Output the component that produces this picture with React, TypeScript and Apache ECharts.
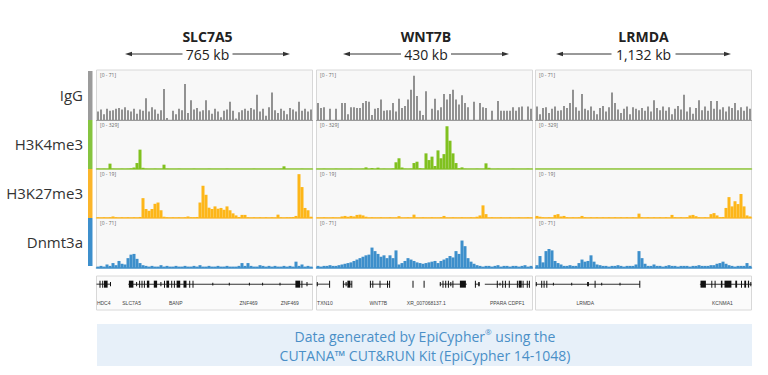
import React, { useEffect, useRef } from "react";
import * as echarts from "echarts";

// ---------- labels ----------
const loci = ["SLC7A5", "WNT7B", "LRMDA"];
const spans = ["765 kb", "430 kb", "1,132 kb"];
const tracks = ["IgG", "H3K4me3", "H3K27me3", "Dnmt3a"];
const trackMax = [71, 329, 19, 71];
const rangeLabels = ["[0 - 71]", "[0 - 329]", "[0 - 19]", "[0 - 71]"];

// ---------- signal (72 bins per locus) ----------
const iggSLC7A5 = [
  12, 15, 8, 16, 13, 14, 16, 17, 15, 18, 14, 12, 16, 9, 15, 13,
  31, 12, 18, 15, 9, 14, 44, 3, 0, 13, 8, 16, 14, 51, 10, 28,
  15, 17, 12, 14, 28, 14, 9, 16, 12, 4, 13, 15, 26, 13, 2, 11,
  14, 16, 13, 17, 15, 36, 12, 16, 6, 18, 39, 14, 10, 16, 13, 8,
  17, 15, 12, 26, 13, 16, 12, 15,
];
const iggWNT7B = [
  24, 17, 18, 0, 16, 0, 16, 0, 24, 24, 8, 18, 18, 17, 17, 24,
  27, 26, 7, 16, 17, 29, 13, 14, 14, 24, 12, 30, 17, 20, 29, 43,
  63, 34, 13, 7, 41, 0, 16, 30, 14, 18, 37, 29, 37, 43, 29, 22,
  35, 24, 18, 0, 26, 0, 24, 18, 17, 0, 13, 0, 27, 13, 13, 13,
  13, 18, 13, 18, 19, 0, 19, 16,
];
const iggLRMDA = [
  19, 8, 17, 18, 10, 16, 19, 13, 14, 20, 17, 24, 43, 18, 13, 37,
  16, 14, 19, 13, 8, 17, 20, 12, 18, 39, 24, 15, 10, 16, 19, 8,
  18, 16, 14, 17, 13, 19, 12, 28, 17, 14, 19, 13, 18, 8, 16, 20,
  15, 36, 12, 18, 9, 17, 28, 14, 19, 13, 27, 16, 27, 15, 18, 12,
  19, 17, 24, 14, 18, 13, 19, 16,
];
const k4SLC7A5 = [
  2, 1, 2, 1, 36, 2, 1, 1, 2, 1, 2, 4, 10, 40, 130, 8,
  2, 1, 1, 2, 1, 1, 29, 2, 1, 1, 1, 2, 1, 1, 1, 1,
  2, 1, 1, 1, 1, 2, 1, 1, 1, 1, 1, 2, 1, 1, 1, 1,
  1, 1, 1, 1, 2, 1, 1, 1, 1, 1, 1, 1, 1, 2, 18, 1,
  1, 1, 1, 1, 2, 1, 1, 1,
];
const k4WNT7B = [
  1, 1, 2, 1, 1, 1, 2, 1, 1, 1, 1, 2, 1, 1, 1, 2,
  11, 1, 6, 1, 9, 1, 2, 1, 1, 3, 45, 72, 10, 2, 1, 2,
  40, 49, 5, 2, 105, 60, 83, 20, 125, 72, 100, 287, 190, 105, 40, 5,
  11, 2, 1, 1, 1, 2, 1, 1, 38, 8, 1, 1, 2, 1, 1, 1,
  1, 2, 1, 1, 1, 1, 2, 1,
];
const k4LRMDA = [
  1, 1, 1, 1, 1, 1, 1, 1, 1, 1, 1, 1, 1, 1, 1, 1,
  1, 1, 1, 1, 1, 1, 1, 1, 1, 1, 1, 1, 1, 1, 1, 1,
  1, 1, 1, 1, 1, 1, 1, 1, 1, 1, 1, 1, 1, 1, 1, 1,
  1, 1, 1, 1, 1, 1, 1, 1, 1, 1, 1, 1, 1, 1, 1, 1,
  1, 1, 1, 1, 1, 1, 1, 1,
];
const k27SLC7A5 = [
  0.3, 0.2, 0.3, 0.2, 0.3, 0.6, 0.3, 0.2, 0.3, 0.2, 0.3, 0.2, 0.3, 0.2, 0.4, 7.7,
  3.5, 2.8, 3.5, 5.5, 6, 3, 0.5, 0.3, 0.2, 0.3, 0.2, 0.3, 0.2, 0.3, 0.6, 0.3,
  0.3, 0.4, 6, 12.5, 9, 4, 3.5, 4.5, 3.6, 3.9, 3.2, 4.5, 3, 1.8, 1, 0.4,
  1.2, 1.2, 0.3, 0.2, 0.3, 0.2, 0.3, 0.2, 0.3, 0.2, 0.3, 0.2, 1.3, 0.3, 0.2, 0.3,
  0.3, 0.4, 0.8, 17, 12, 3.9, 3, 0.5,
];
const k27WNT7B = [
  0.2, 0.2, 0.3, 0.2, 0.2, 0.3, 0.2, 0.2, 0.6, 0.8, 0.5, 0.8, 0.6, 1.2, 1.3, 1.0,
  0.5, 0.2, 0.3, 0.2, 0.2, 0.3, 0.2, 0.2, 0.3, 0.2, 0.2, 0.7, 0.2, 0.2, 0.3, 0.2,
  1.3, 0.2, 0.2, 0.3, 0.2, 0.2, 0.3, 0.2, 0.2, 0.3, 0.8, 0.2, 0.2, 0.3, 0.2, 0.2,
  0.3, 0.2, 0.2, 0.3, 0.2, 0.5, 1.0, 4.9, 1.5, 0.2, 0.3, 0.2, 0.2, 0.3, 0.2, 0.2,
  0.3, 0.2, 0.2, 0.3, 0.2, 0.2, 0.3, 0.2,
];
const k27LRMDA = [
  0.8, 0.5, 0.3, 0.2, 0.3, 0.2, 1.2, 1.5, 0.6, 0.8, 0.3, 0.2, 0.3, 0.2, 0.3, 0.8,
  0.3, 0.2, 0.3, 0.2, 0.3, 0.2, 0.3, 0.2, 0.3, 0.2, 0.3, 0.2, 0.3, 0.2, 0.3, 0.2,
  0.3, 0.2, 1.7, 0.3, 0.2, 0.3, 0.2, 0.3, 0.2, 0.3, 0.2, 0.3, 0.2, 1.2, 0.3, 0.2,
  0.3, 0.2, 0.3, 1.0, 1.2, 0.7, 0.3, 0.2, 0.3, 0.2, 1.5, 1.9, 1.0, 0.3, 0.4, 3.9,
  8.1, 4.5, 6.5, 5.4, 9.3, 4.5, 1.0, 0.6,
];
const dnSLC7A5 = [
  2, 3, 2, 5, 3, 7, 4, 10, 6, 5, 14, 19, 20, 13, 7, 4,
  3, 2, 3, 2, 2, 4, 2, 3, 2, 2, 3, 2, 2, 3, 2, 2,
  3, 2, 4, 2, 2, 3, 2, 2, 3, 2, 2, 3, 2, 2, 2, 3,
  7, 3, 7, 3, 2, 2, 4, 3, 2, 3, 2, 3, 2, 2, 3, 2,
  3, 2, 9, 3, 5, 2, 3, 2,
];
const dnWNT7B = [
  3, 2, 3, 3, 4, 3, 3, 4, 5, 6, 7, 8, 10, 12, 14, 16,
  18, 19, 29, 24, 20, 16, 18, 14, 18, 14, 25, 5, 7, 10, 14, 12,
  10, 8, 7, 6, 7, 8, 9, 10, 7, 10, 12, 14, 17, 15, 24, 20,
  39, 31, 14, 9, 6, 4, 3, 2, 3, 3, 2, 3, 4, 2, 3, 3,
  2, 3, 3, 2, 3, 4, 2, 3,
];
const dnLRMDA = [
  4, 17, 8, 24, 27, 25, 10, 7, 5, 3, 3, 4, 3, 3, 7, 12,
  9, 10, 18, 9, 5, 4, 3, 3, 2, 3, 3, 4, 3, 2, 3, 3,
  3, 5, 24, 14, 6, 3, 3, 5, 3, 3, 2, 3, 4, 3, 3, 2,
  3, 3, 3, 2, 3, 3, 4, 3, 3, 3, 4, 4, 6, 7, 9, 6,
  4, 3, 2, 3, 3, 3, 7, 3,
];

// ---------- gene annotation (bin units, 0-72) ----------
const geneLinesSLC7A5 = [[0, 4.8], [10.6, 72]];
const exonsSLC7A5 = [
  [1.0, 1.3, 1], [1.9, 2.2, 1], [2.5, 3.7, 1], [4.5, 4.8, 0.6],
  [10.8, 12.3, 1], [13.2, 13.4, 0.6], [14.2, 14.5, 1], [15.0, 15.3, 1], [15.8, 16.1, 1],
  [16.8, 17.6, 1], [19.1, 20.2, 1], [21.3, 21.6, 0.6], [22.5, 22.8, 1], [23.3, 24.2, 1],
  [24.9, 25.2, 1], [25.8, 26.1, 1], [26.7, 27.9, 1], [29.0, 30.0, 1], [30.9, 31.2, 1],
  [32.0, 32.3, 1], [38.6, 38.9, 0.4], [44.1, 44.4, 0.4], [50.8, 51.1, 0.4], [55.2, 55.5, 0.4],
  [61.0, 61.3, 0.4], [66.3, 67.9, 1], [68.3, 68.6, 1], [70.0, 70.3, 0.6],
];
const geneLabelsSLC7A5: [number, string][] = [
  [2.4, "HDC4"], [11.7, "SLC7A5"], [26.4, "BANP"], [50.7, "ZNF469"], [64.4, "ZNF469"],
];
const geneLinesWNT7B = [[0.1, 4.4], [8.8, 11.8], [17.8, 24.4], [41.1, 50.1], [52.8, 54.4], [56.1, 71.1]];
const exonsWNT7B = [
  [0.1, 0.4, 0.6], [4.2, 4.5, 1], [8.8, 9.1, 1], [9.7, 10.0, 0.6], [10.3, 11.3, 1], [11.6, 11.9, 1],
  [17.8, 18.1, 1], [18.6, 18.9, 1], [21.0, 21.3, 1], [23.5, 23.8, 1], [24.2, 24.5, 1],
  [32.0, 32.3, 1], [35.7, 36.0, 1], [41.1, 41.4, 0.6], [42.0, 42.3, 1], [42.9, 43.2, 1],
  [43.8, 44.1, 1], [44.6, 44.9, 0.6], [45.3, 45.6, 1], [47.8, 49.8, 1], [52.8, 53.1, 1],
  [53.9, 54.4, 0.6], [60.1, 60.4, 1], [61.0, 61.3, 0.4], [61.9, 62.2, 1], [62.8, 63.1, 1],
  [64.1, 64.4, 1], [66.8, 67.1, 1], [67.4, 68.4, 1], [68.7, 69.0, 1], [70.1, 70.4, 1], [70.8, 71.1, 1],
];
const geneLabelsWNT7B: [number, string][] = [
  [2.8, "TXN10"], [20.6, "WNT7B"], [36.6, "XR_007068137.1"], [60.6, "PPARA"], [66.6, "CDPF1"],
];
const geneLinesLRMDA = [[0.1, 34.8], [54.8, 72]];
const exonsLRMDA = [
  [0.1, 0.4, 0.6], [1.9, 2.2, 1], [2.7, 3.0, 1], [3.6, 3.9, 1], [5.8, 6.1, 0.4], [11.9, 12.2, 0.4],
  [17.2, 17.8, 0.6], [19.7, 20.0, 1], [21.9, 22.2, 0.4], [28.0, 28.3, 0.4], [34.6, 34.9, 1],
  [55.0, 56.8, 1], [58.6, 58.9, 1], [59.7, 60.0, 1], [61.8, 62.3, 1], [63.0, 65.3, 1],
  [66.6, 67.2, 1], [68.5, 68.8, 1], [69.6, 70.2, 1], [70.8, 71.2, 1], [71.6, 71.9, 0.6],
];
const geneLabelsLRMDA: [number, string][] = [[16.6, "LRMDA"], [62.3, "KCNMA1"]];

const footerLine1 = "Data generated by EpiCypher";
const footerLine1b = " using the";
const footerLine2 = "CUTANA™ CUT&RUN Kit (EpiCypher 14-1048)";

// ---------- layout / style ----------
const FONT = "'Open Sans', sans-serif";
const SMALL_FONT = "'Liberation Sans', Arial, sans-serif";
const colLeft = [96.5, 316.5, 535.5];
const colW = 216;
const rowTop = [70, 120, 169, 218];
const rowH = [50, 49, 49, 50];
const labelY = [95, 144, 193, 242];
const barColors = ["#8a8a8a", "#80c11f", "#fdb619", "#3d8fcb"];
const sideColors = ["#9b9b9b", "#86c440", "#fbb52b", "#3d8fcc"];
const baseColors = ["#9a9a9a", "#96cc45", "#fcc250", "#4a96ce"];
const arrowL = [125, 343, 556];
const arrowR = [290, 509, 731];
const gapHalf = [25, 25, 32];

const trackData = [
  [iggSLC7A5, iggWNT7B, iggLRMDA],
  [k4SLC7A5, k4WNT7B, k4LRMDA],
  [k27SLC7A5, k27WNT7B, k27LRMDA],
  [dnSLC7A5, dnWNT7B, dnLRMDA],
];
const geneLines = [geneLinesSLC7A5, geneLinesWNT7B, geneLinesLRMDA];
const exons = [exonsSLC7A5, exonsWNT7B, exonsLRMDA];
const geneLabels = [geneLabelsSLC7A5, geneLabelsWNT7B, geneLabelsLRMDA];

function buildOption() {
  const grid: any[] = [];
  const xAxis: any[] = [];
  const yAxis: any[] = [];
  const series: any[] = [];
  const graphic: any[] = [];

  for (let c = 0; c < 3; c++) {
    for (let r = 0; r < 4; r++) {
      const idx = grid.length;
      const data = trackData[r][c];
      grid.push({
        left: colLeft[c], top: rowTop[r], width: colW, height: rowH[r],
        show: true, backgroundColor: "#f8f8f8", borderColor: "#d8d8d8", borderWidth: 1,
      });
      xAxis.push({
        type: "category", gridIndex: idx, data: data.map((_, i) => String(i)),
        axisLine: { show: true, lineStyle: { color: baseColors[r], width: r === 0 ? 1 : 1.5 } },
        axisTick: { show: false }, axisLabel: { show: false }, splitLine: { show: false },
      });
      yAxis.push({ type: "value", gridIndex: idx, min: 0, max: trackMax[r], show: false });
      series.push({
        type: "bar", xAxisIndex: idx, yAxisIndex: idx, data, silent: true,
        barCategoryGap: r === 0 ? "38%" : "0%",
        itemStyle: { color: barColors[r] },
      });
      graphic.push({
        type: "text", x: colLeft[c] + 3.5, y: rowTop[r] + 5, z: 100,
        style: { text: rangeLabels[r], font: `5px ${FONT}`, fill: "#666", textVerticalAlign: "middle" },
      });
    }
  }

  for (let c = 0; c < 3; c++) {
    const idx = grid.length;
    grid.push({
      left: colLeft[c], top: 276, width: colW, height: 34,
      show: true, backgroundColor: "#fbfbfb", borderColor: "#d8d8d8", borderWidth: 1,
    });
    xAxis.push({ type: "value", gridIndex: idx, min: 0, max: 72, show: false });
    yAxis.push({ type: "value", gridIndex: idx, min: 0, max: 1, show: false });
    series.push({
      type: "custom", xAxisIndex: idx, yAxisIndex: idx, data: geneLines[c], silent: true,
      renderItem: (_p: any, api: any) => {
        const a = api.coord([api.value(0), 0.76]);
        const b = api.coord([api.value(1), 0.76]);
        return { type: "rect", shape: { x: a[0], y: a[1] - 0.5, width: b[0] - a[0], height: 1 }, style: { fill: "#333" } };
      },
    });
    series.push({
      type: "custom", xAxisIndex: idx, yAxisIndex: idx, data: exons[c], silent: true,
      renderItem: (_p: any, api: any) => {
        const a = api.coord([api.value(0), 0.76]);
        const b = api.coord([api.value(1), 0.76]);
        const h = 7 * api.value(2);
        return { type: "rect", shape: { x: a[0], y: a[1] - h / 2, width: Math.max(1, b[0] - a[0]), height: h }, style: { fill: "#111" } };
      },
    });
    const labs = geneLabels[c];
    series.push({
      type: "custom", xAxisIndex: idx, yAxisIndex: idx, data: labs.map((l) => [l[0], 0.22]), silent: true,
      renderItem: (p: any, api: any) => {
        const pt = api.coord([api.value(0), api.value(1)]);
        return {
          type: "text", x: pt[0], y: pt[1],
          style: { text: labs[p.dataIndex][1], fill: "#444", font: `5px ${SMALL_FONT}`, textAlign: "center", textVerticalAlign: "middle" },
        };
      },
    });
  }

  // track labels and colour strips
  for (let r = 0; r < 4; r++) {
    graphic.push({
      type: "text", x: 83, y: labelY[r], z: 100,
      style: { text: tracks[r], font: `15px ${FONT}`, fill: "#333", textAlign: "right", textVerticalAlign: "middle" },
    });
    graphic.push({
      type: "rect", z: 100, shape: { x: 88, y: rowTop[r] + (r === 0 ? 1 : 0), width: 4.5, height: rowH[r] - (r === 3 ? 2 : 0) - (r === 0 ? 1 : 0) },
      style: { fill: sideColors[r] },
    });
  }

  // headers with span arrows
  for (let c = 0; c < 3; c++) {
    const cx = (arrowL[c] + arrowR[c]) / 2;
    graphic.push({
      type: "text", x: cx, y: 36.5, z: 100,
      style: { text: loci[c], font: `bold 14px ${FONT}`, lineHeight: 15, fill: "#222", textAlign: "center", textVerticalAlign: "middle" },
    });
    graphic.push({
      type: "text", x: cx, y: 54.5, z: 100,
      style: { text: spans[c], font: `14px ${FONT}`, lineHeight: 15, fill: "#222", textAlign: "center", textVerticalAlign: "middle" },
    });
    const y = 54;
    graphic.push({ type: "line", z: 100, shape: { x1: arrowL[c] + 3, y1: y, x2: cx - gapHalf[c], y2: y }, style: { stroke: "#333", lineWidth: 1 } });
    graphic.push({ type: "line", z: 100, shape: { x1: cx + gapHalf[c], y1: y, x2: arrowR[c] - 3, y2: y }, style: { stroke: "#333", lineWidth: 1 } });
    graphic.push({ type: "polygon", z: 100, shape: { points: [[arrowL[c], y], [arrowL[c] + 7, y - 2.3], [arrowL[c] + 7, y + 2.3]] }, style: { fill: "#333" } });
    graphic.push({ type: "polygon", z: 100, shape: { points: [[arrowR[c], y], [arrowR[c] - 7, y - 2.3], [arrowR[c] - 7, y + 2.3]] }, style: { fill: "#333" } });
  }

  // footer box
  graphic.push({ type: "rect", z: 1, shape: { x: 97, y: 324, width: 655, height: 42 }, style: { fill: "#e7f0f9" } });
  graphic.push({
    type: "text", x: 425, y: 336, z: 100,
    style: {
      text: `{a|${footerLine1}}{s|®}{a|${footerLine1b}}`,
      textAlign: "center", textVerticalAlign: "middle",
      rich: {
        a: { fontSize: 14, fontFamily: FONT, fill: "#4a8fc7", lineHeight: 17 },
        s: { fontSize: 8, fontFamily: FONT, fill: "#4a8fc7", verticalAlign: "top", lineHeight: 17 },
      },
    },
  });
  graphic.push({
    type: "text", x: 425, y: 355, z: 100,
    style: { text: footerLine2, font: `14px ${FONT}`, lineHeight: 17, fill: "#4a8fc7", textAlign: "center", textVerticalAlign: "middle" },
  });

  return { animation: false, backgroundColor: "#ffffff", grid, xAxis, yAxis, series, graphic };
}

export default function App() {
  const ref = useRef<HTMLDivElement>(null);
  useEffect(() => {
    if (!ref.current) return;
    const chart = echarts.init(ref.current, undefined, { renderer: "svg" });
    chart.setOption(buildOption() as any);
    return () => chart.dispose();
  }, []);
  return <div ref={ref} style={{ position: "absolute", left: 0, top: 0, width: 768, height: 375 }} />;
}
